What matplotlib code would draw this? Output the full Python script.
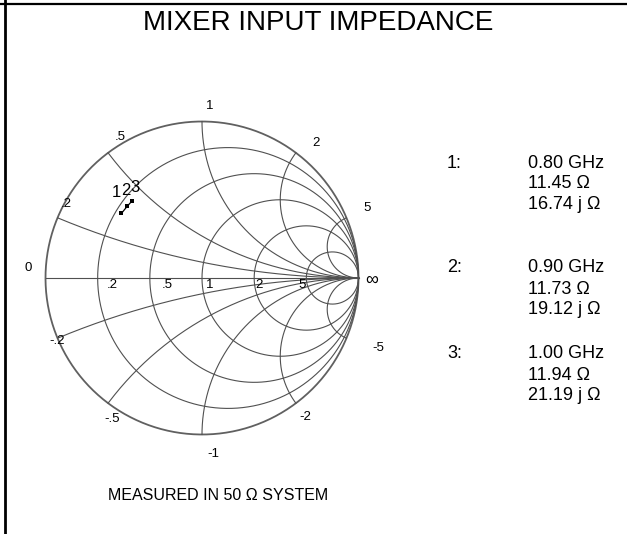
import numpy as np
import matplotlib
matplotlib.use("Agg")
import matplotlib.pyplot as plt
from matplotlib.lines import Line2D

# ---- data ----
freq_ghz = [0.80, 0.90, 1.00]
r_ohm = [11.45, 11.73, 11.94]
x_ohm = [16.74, 19.12, 21.19]
marker_names = ["1", "2", "3"]
z0 = 50.0

r_circles = [0.2, 0.5, 1, 2, 5]
x_arcs = [0.2, 0.5, 1, 2, 5]
r_labels = [".2", ".5", "1", "2", "5"]
x_labels_pos = [".2", ".5", "1", "2", "5"]
x_labels_neg = ["-.2", "-.5", "-1", "-2", "-5"]

title = "MIXER INPUT IMPEDANCE"
footer = "MEASURED IN 50 \u03a9 SYSTEM"

# ---- layout (pixels of a 627x534 image) ----
W, H = 627, 534
cx, cy, R = 202, 278, 156.5

plt.rcParams["font.family"] = ["Liberation Sans", "DejaVu Sans"]

fig = plt.figure(figsize=(W / 100, H / 100), dpi=100)
ax = fig.add_axes([0, 0, 1, 1])
ax.set_xlim(-cx / R, (W - cx) / R)
ax.set_ylim(-(H - cy) / R, cy / R)
ax.axis("off")

grid = dict(color="#505050", lw=0.8)

# outer circle and real axis
t = np.linspace(0, 2 * np.pi, 600)
ax.plot(np.cos(t), np.sin(t), color="#606060", lw=1.3)
ax.plot([-1, 1], [0, 0], **grid)

# constant resistance circles
for r in r_circles:
    c, rad = r / (1 + r), 1 / (1 + r)
    ax.plot(c + rad * np.cos(t), rad * np.sin(t), **grid)

# constant reactance arcs (inside the unit circle)
for x in x_arcs:
    g_end = (1j * x - 1) / (1j * x + 1)
    a_end = np.angle(g_end - (1 + 1j / x))
    if a_end > -np.pi / 2:
        a_end -= 2 * np.pi
    a = np.linspace(-np.pi / 2, a_end, 300)
    px = 1 + np.cos(a) / x
    py = 1 / x + np.sin(a) / x
    ax.plot(px, py, **grid)
    ax.plot(px, -py, **grid)

# rim labels: (angle deg, radius) for each label
rim_pos = [(151.4, 0.99), (120.2, 1.04), (87.3, 1.10), (49.8, 1.13), (23.0, 1.145)]
rim_neg = [(-156.5, 1.01), (-122.4, 1.07), (-86.4, 1.13), (-53.4, 1.11), (-21.7, 1.21)]
for lab, (ang, rho) in zip(x_labels_pos + x_labels_neg, rim_pos + rim_neg):
    a = np.deg2rad(ang)
    ax.text(rho * np.cos(a), rho * np.sin(a), lab, fontsize=9.5, ha="center", va="center")
ax.text(1.11 * np.cos(np.deg2rad(176.7)), 1.11 * np.sin(np.deg2rad(176.7)), "0",
        fontsize=9.5, ha="center", va="center")
ax.text(1.085, -0.012, "\u221e", fontsize=13, ha="center", va="center")

# resistance labels just under the real axis
r_label_dx = [0.09, 0.11, 0.05, 0.03, -0.03]
for r, lab, dx in zip(r_circles, r_labels, r_label_dx):
    g = (r - 1) / (r + 1)
    ax.text(g + dx, -0.045, lab, fontsize=9.5, ha="center", va="center")

# measured trace
z = (np.array(r_ohm) + 1j * np.array(x_ohm)) / z0
gam = (z - 1) / (z + 1)
ax.plot(gam.real, gam.imag, color="black", lw=0.9, marker="s", ms=2.2, mew=0)
label_off = [(-3.8, 9.4), (-1.2, 6.0), (1.6, 4.4)]  # points
for g, name, off in zip(gam, marker_names, label_off):
    ax.annotate(name, (g.real, g.imag), xytext=off, textcoords="offset points",
                fontsize=12, ha="center", va="bottom")

# title and footer
fig.text(318 / W, 1 - 22.5 / H, title, fontsize=20, ha="center", va="center")
fig.text(218 / W, 1 - 495 / H, footer, fontsize=11.5, ha="center", va="center")

# marker readouts on the right
rows = [163, 268, 354]
for y0, name, f, r, x in zip(rows, marker_names, freq_ghz, r_ohm, x_ohm):
    fig.text(447 / W, 1 - y0 / H, name + ":", fontsize=13, ha="left", va="center")
    fig.text(528 / W, 1 - y0 / H, f"{f:.2f} GHz", fontsize=13, ha="left", va="center")
    fig.text(528 / W, 1 - (y0 + 21) / H, f"{r:.2f} \u03a9", fontsize=13, ha="left", va="center")
    fig.text(528 / W, 1 - (y0 + 42) / H, f"{x:.2f} j \u03a9", fontsize=13, ha="left", va="center")

# frame edges visible at top and left
fig.add_artist(Line2D([0, 1], [1 - 4 / H] * 2, color="black", lw=1.6, transform=fig.transFigure))
fig.add_artist(Line2D([5 / W] * 2, [0, 1], color="black", lw=2.0, transform=fig.transFigure))

fig.savefig("out.png", dpi=100)
